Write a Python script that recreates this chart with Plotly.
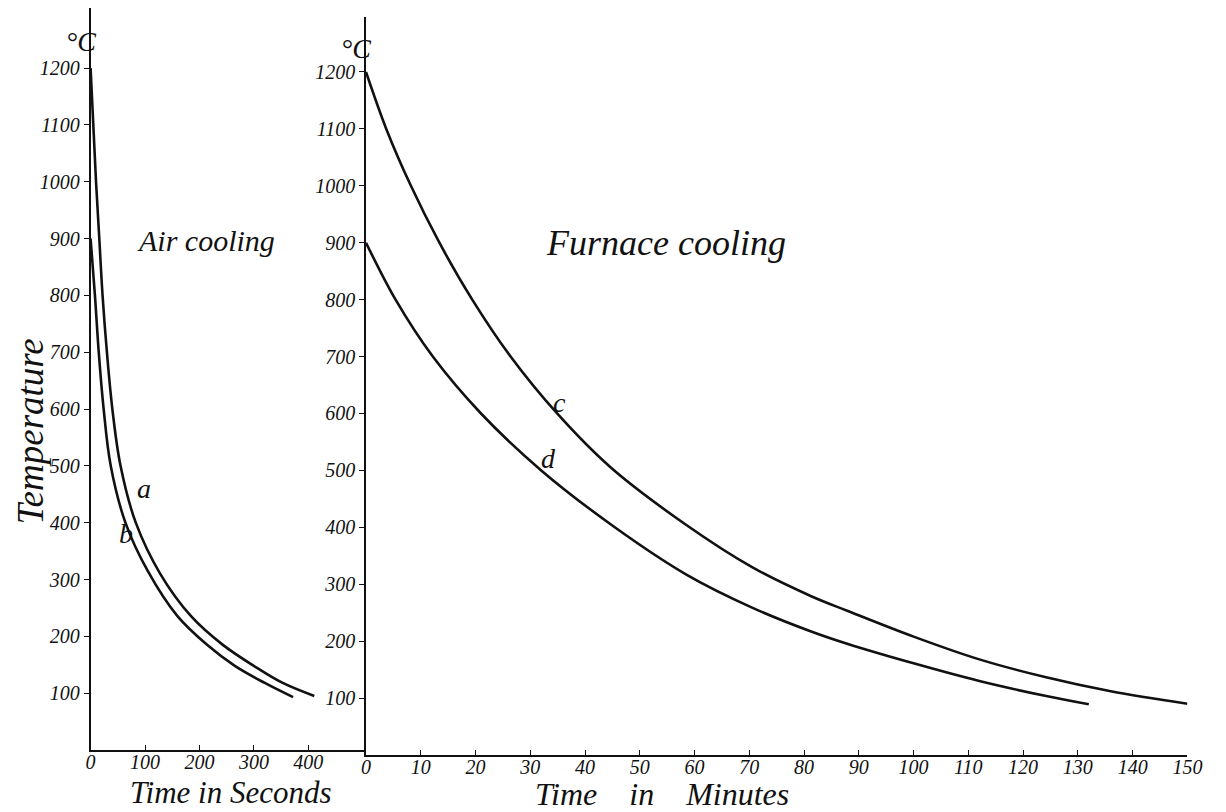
import plotly.graph_objects as go

# ---------------- data ----------------
# Air cooling (time in seconds, temperature in deg C)
air_a_time = [0, 5, 10, 16, 22, 30, 40, 55, 83, 128, 185, 243, 305, 353, 411]
air_a_temp = [1200, 1100, 1000, 900, 800, 700, 600, 500, 400, 310, 235, 185, 145, 118, 95]
air_b_time = [0, 8, 15, 24, 37, 64, 105, 160, 214, 265, 320, 372]
air_b_temp = [900, 800, 700, 600, 500, 400, 315, 235, 185, 148, 118, 93]

# Furnace cooling (time in minutes, temperature in deg C)
furn_c_time = [0, 3.7, 8.2, 13.4, 19.4, 26.4, 34.9, 44.7, 58.5, 70.5, 81.3, 88, 100, 112, 124, 136, 150]
furn_c_temp = [1200, 1100, 1000, 900, 800, 700, 600, 505, 404, 330, 279, 253, 208, 168, 137, 112, 90]
furn_d_time = [0, 5.4, 12.2, 21, 32, 45.3, 58.5, 70.5, 81.3, 88, 100, 112, 124, 132]
furn_d_temp = [900, 800, 700, 600, 500, 401, 317, 259, 217, 195, 161, 130, 104, 89]

air_xticks = [0, 100, 200, 300, 400]
furn_xticks = [0, 10, 20, 30, 40, 50, 60, 70, 80, 90, 100, 110, 120, 130, 140, 150]
y_ticks = [100, 200, 300, 400, 500, 600, 700, 800, 900, 1000, 1100, 1200]

# ---------------- figure ----------------
W, H = 1226, 812
FONT = "Liberation Serif"
INK = "#111111"


def px(x):
    return x / W


def py(y):
    return 1 - y / H


fig = go.Figure()
line_style = dict(color=INK, width=2.6, shape="spline", smoothing=1.0)
fig.add_trace(go.Scatter(x=air_a_time, y=air_a_temp, mode="lines", line=line_style,
                         xaxis="x", yaxis="y", showlegend=False, hoverinfo="skip"))
fig.add_trace(go.Scatter(x=air_b_time, y=air_b_temp, mode="lines", line=line_style,
                         xaxis="x", yaxis="y", showlegend=False, hoverinfo="skip"))
fig.add_trace(go.Scatter(x=furn_c_time, y=furn_c_temp, mode="lines", line=line_style,
                         xaxis="x2", yaxis="y2", showlegend=False, hoverinfo="skip"))
fig.add_trace(go.Scatter(x=furn_d_time, y=furn_d_temp, mode="lines", line=line_style,
                         xaxis="x2", yaxis="y2", showlegend=False, hoverinfo="skip"))

tickfont = dict(family=FONT, size=20, color=INK, style="italic")
axis_common = dict(showline=True, linecolor=INK, linewidth=1.6, showgrid=False,
                   zeroline=False, tickcolor=INK, tickwidth=1.2, tickfont=tickfont)

fig.update_layout(
    width=W, height=H,
    margin=dict(l=0, r=0, t=0, b=0),
    paper_bgcolor="white", plot_bgcolor="rgba(0,0,0,0)",
    xaxis=dict(domain=[px(87), px(367)], range=[0, 506], anchor="y",
               tickmode="array", tickvals=air_xticks, ticktext=[str(v) for v in air_xticks],
               ticks="inside", ticklen=5, ticklabelstandoff=-7, **axis_common),
    yaxis=dict(domain=[py(750), py(8)], range=[0, 1305.6], anchor="x",
               tickmode="array", tickvals=y_ticks, ticktext=[str(v) for v in y_ticks],
               ticks="outside", ticklen=5, **axis_common),
    xaxis2=dict(domain=[px(367), px(1202)], range=[0, 150], anchor="y2",
                tickmode="array", tickvals=furn_xticks, ticktext=[str(v) for v in furn_xticks],
                ticks="inside", ticklen=5, ticklabelstandoff=-7, **axis_common),
    yaxis2=dict(domain=[py(755), py(17)], range=[0, 1296.6], anchor="x2",
                tickmode="array", tickvals=y_ticks, ticktext=[str(v) for v in y_ticks],
                ticks="outside", ticklen=5, **axis_common),
)


def note(text, x, y, size, angle=0):
    fig.add_annotation(text=text, x=px(x), y=py(y), xref="paper", yref="paper",
                       showarrow=False, xanchor="center", yanchor="middle",
                       textangle=angle,
                       font=dict(family=FONT, size=size, color=INK, style="italic"))


NB = "\u00a0"
note("°C", 77, 42, 28)
note("°C", 357, 48, 28)
note("Air cooling", 204, 240, 30)
note("Furnace cooling", 672, 243, 36)
note("Temperature", 25, 432, 37, angle=-90)
note("Time in Seconds", 230, 792, 31)
note("Time" + NB * 3 + " in" + NB * 3 + " Minutes", 668, 794, 32)
note("a", 141, 488, 28)
note("b", 123, 533, 28)
note("c", 564, 402, 28)
note("d", 553, 458, 28)

fig.write_html("out.html", config={"displayModeBar": False},
               post_script="document.body.style.margin='0';document.body.style.overflow='hidden';")
